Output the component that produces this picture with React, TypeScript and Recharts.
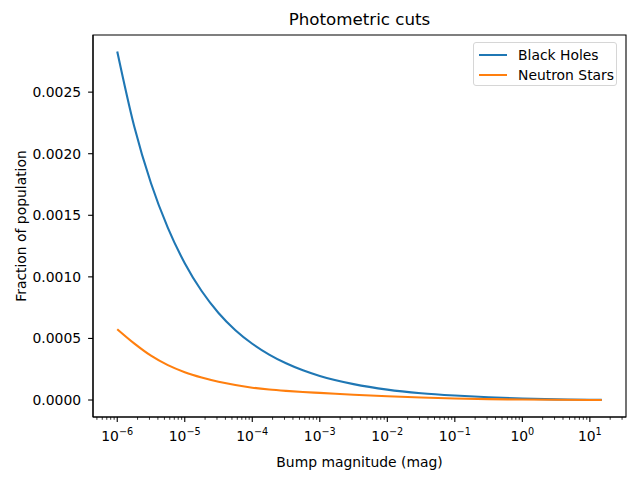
import React from "react";
import { Legend, Line, LineChart, ReferenceArea, XAxis, YAxis } from "recharts";

// Bump magnitudes (mag): quarter decades up to 1e-3, then half decades
const magnitudes = [
  1e-6, 1.778e-6, 3.162e-6, 5.623e-6, 1e-5, 1.778e-5, 3.162e-5, 5.623e-5,
  1e-4, 1.778e-4, 3.162e-4, 5.623e-4, 1e-3, 3.162e-3, 1e-2, 3.162e-2, 0.1,
  0.3162, 1, 3.162, 10, 15,
];
// Fraction of population
const blackHoles = [
  0.00283, 0.002225, 0.00176, 0.001398, 0.001111, 0.000885, 0.000707,
  0.000567, 0.000457, 0.000369, 0.000298, 0.000241, 0.000195, 0.000129,
  0.000084, 0.000055, 0.000036, 0.000022, 0.000011, 0.000005, 0.000002,
  0.000001,
];
const neutronStars = [
  0.000575, 0.00046, 0.00036, 0.000283, 0.000226, 0.000183, 0.000149,
  0.000122, 0.0001, 0.000085, 0.000074, 0.000065, 0.000058, 0.000043,
  0.00003, 0.00002, 0.0000125, 0.000007, 0.0000035, 0.0000015, 0.0000006,
  0.0000003,
];

const majorTicks = [1e-6, 1e-5, 1e-4, 1e-3, 1e-2, 1e-1, 1, 10];
const yTicks = [0, 0.0005, 0.001, 0.0015, 0.002, 0.0025];

const X_DOMAIN: [number, number] = [4.375e-7, 34.3];
const Y_DOMAIN: [number, number] = [-0.000138, 0.002964];

// matplotlib-style minor ticks: 2..9 within each decade, clipped to the domain
const minorTicks = [1e-7, ...majorTicks]
  .flatMap((d) => [2, 3, 4, 5, 6, 7, 8, 9].map((m) => m * d))
  .filter((v) => v >= X_DOMAIN[0] && v <= X_DOMAIN[1]);
const xTicks = [...majorTicks, ...minorTicks].sort((a, b) => a - b);

const data = magnitudes.map((m, i) => ({
  mag: m,
  bh: blackHoles[i],
  ns: neutronStars[i],
}));

const FONT = "'DejaVu Sans', sans-serif";
const C0 = "#1f77b4";
const C1 = "#ff7f0e";

function XTick(props: any) {
  const { x, y, payload } = props;
  const lg = Math.log10(payload.value);
  const exp = Math.round(lg);
  const major = Math.abs(lg - exp) < 1e-6;
  return (
    <g>
      <line
        x1={x}
        x2={x}
        y1={y}
        y2={y + (major ? 4.9 : 2.8)}
        stroke="#000"
        strokeWidth={major ? 1.1 : 0.8}
      />
      {major ? (
        <text x={x} y={y + 23.7} textAnchor="middle" fontSize={13.9} fontFamily={FONT} fill="#000">
          10
          <tspan dy={-5.5} fontSize={9.7}>
            {exp < 0 ? `\u2212${-exp}` : String(exp)}
          </tspan>
        </text>
      ) : null}
    </g>
  );
}

function YLabel(props: any) {
  const vb = props.viewBox;
  const cy = vb.y + vb.height / 2;
  return (
    <text
      x={26}
      y={cy}
      transform={`rotate(-90, 26, ${cy})`}
      textAnchor="middle"
      fontSize={13.9}
      fontFamily={FONT}
      fill="#000"
    >
      Fraction of population
    </text>
  );
}

function LegendBox() {
  const rows = [
    { label: "Black Holes", color: C0 },
    { label: "Neutron Stars", color: C1 },
  ];
  return (
    <div
      style={{
        width: 144,
        height: 44,
        border: "1px solid #d6d6d6",
        borderRadius: 3,
        background: "#fff",
        fontFamily: FONT,
        fontSize: 13.9,
        boxSizing: "border-box",
        paddingTop: 2,
      }}
    >
      {rows.map((r) => (
        <div key={r.label} style={{ display: "flex", alignItems: "center", height: 20 }}>
          <div style={{ width: 28, height: 2, background: r.color, marginLeft: 5, marginRight: 11 }} />
          <span style={{ color: "#000", lineHeight: "20px" }}>{r.label}</span>
        </div>
      ))}
    </div>
  );
}

export default function App() {
  return (
    <div style={{ position: "absolute", left: 0, top: 0, width: 640, height: 480, background: "#fff" }}>
      <div
        style={{
          position: "absolute",
          top: 9,
          left: 93,
          width: 533,
          textAlign: "center",
          fontFamily: FONT,
          fontSize: 16.7,
          color: "#000",
        }}
      >
        Photometric cuts
      </div>
      <LineChart
        width={640}
        height={480}
        data={data}
        margin={{ top: 35, right: 14, bottom: 0, left: 0 }}
      >
        <XAxis
          dataKey="mag"
          type="number"
          scale="log"
          domain={X_DOMAIN}
          allowDataOverflow
          ticks={xTicks}
          interval={0}
          height={63}
          tickSize={0}
          tickMargin={0}
          tickLine={false}
          axisLine={{ stroke: "#000", strokeWidth: 1.1 }}
          tick={<XTick />}
          label={{
            value: "Bump magnitude (mag)",
            position: "insideBottom",
            offset: 13,
            fontSize: 13.9,
            fontFamily: FONT,
            fill: "#000",
          }}
        />
        <YAxis
          type="number"
          domain={Y_DOMAIN}
          allowDataOverflow
          ticks={yTicks}
          interval={0}
          width={93}
          tickSize={4.9}
          tickMargin={7}
          tickFormatter={(v: number) => v.toFixed(4)}
          tick={{ fontSize: 13.9, fontFamily: FONT, fill: "#000" }}
          tickLine={{ stroke: "#000", strokeWidth: 1.1 }}
          axisLine={{ stroke: "#000", strokeWidth: 1.1 }}
          label={<YLabel />}
        />
        <ReferenceArea
          x1={X_DOMAIN[0]}
          x2={X_DOMAIN[1]}
          y1={Y_DOMAIN[0]}
          y2={Y_DOMAIN[1]}
          fill="none"
          stroke="#000"
          strokeWidth={1.1}
          ifOverflow="visible"
        />
        <Line
          dataKey="bh"
          name="Black Holes"
          type="monotone"
          stroke={C0}
          strokeWidth={2.1}
          dot={false}
          isAnimationActive={false}
        />
        <Line
          dataKey="ns"
          name="Neutron Stars"
          type="monotone"
          stroke={C1}
          strokeWidth={2.1}
          dot={false}
          isAnimationActive={false}
        />
        <Legend
          layout="vertical"
          align="center"
          verticalAlign="middle"
          content={<LegendBox />}
          wrapperStyle={{ top: 42, left: 473, width: 146 }}
        />
      </LineChart>
    </div>
  );
}
